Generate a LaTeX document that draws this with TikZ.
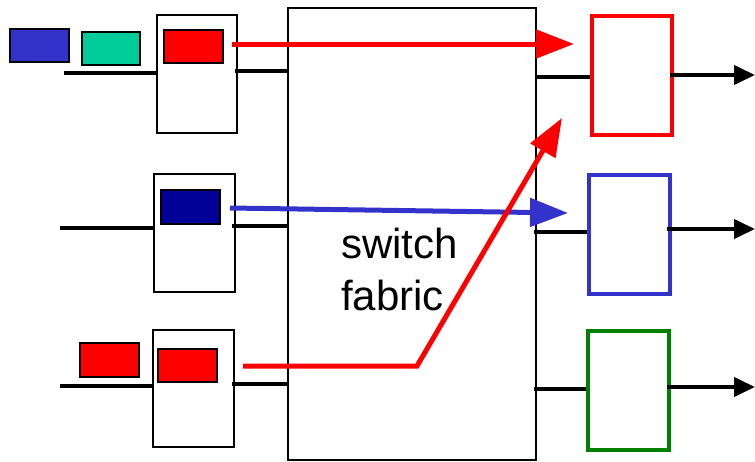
\documentclass[tikz,border=0pt]{standalone}
\usepackage{fontspec}
\setmainfont{Liberation Sans}
\usetikzlibrary{arrows.meta}
\definecolor{pblue}{HTML}{3333CC}
\definecolor{pteal}{HTML}{00CC99}
\definecolor{pred}{HTML}{FF0000}
\definecolor{pnavy}{HTML}{000099}
\definecolor{pgreen}{HTML}{008000}
\tikzset{
  port/.style={draw=black, line width=2pt, fill=white, inner sep=0pt},
  pkt/.style={draw=black, line width=2pt, inner sep=0pt, minimum width=59pt, minimum height=33pt},
  outport/.style={line width=3.5pt, fill=white, inner sep=0pt, minimum width=80pt, minimum height=119pt},
  wire/.style={line width=4pt, black},
  outwire/.style={line width=4pt, black, -{Triangle[length=21pt,width=19pt]}},
  flow/.style={line width=5pt, line join=miter, -{Triangle[length=38pt,width=28pt]}},
}
\begin{document}
\begin{tikzpicture}[x=1pt,y=-1pt]
\useasboundingbox (0,0) rectangle (755,461);
% switch fabric
\node[port, minimum width=248pt, minimum height=452pt] (fab) at (412,234) {};
\node[anchor=west, inner sep=0pt, align=left, font=\fontsize{42}{52}\selectfont] (lbl) at (341,269) {switch\\fabric};
% input ports
\node[port, minimum width=80pt, minimum height=118pt] (in1) at (197,74) {};
\node[port, minimum width=81pt, minimum height=118pt] (in2) at (194.5,233) {};
\node[port, minimum width=81pt, minimum height=117pt] (in3) at (193.5,388.5) {};
% packets
\node[pkt, fill=pblue] (p1) at (39.5,45.5) {};
\node[pkt, fill=pteal, minimum width=58pt] (p2) at (111,48.5) {};
\node[pkt, fill=pred] (p3) at (193.5,46.5) {};
\node[pkt, fill=pnavy, minimum height=34pt] (p4) at (190.5,207) {};
\node[pkt, fill=pred, minimum height=34pt] (p5) at (109.5,360) {};
\node[pkt, fill=pred] (p6) at (187.5,365.5) {};
% output ports
\node[outport, draw=pred] (out1) at (632,75.5) {};
\node[outport, draw=pblue, minimum width=81pt] (out2) at (629.5,234.5) {};
\node[outport, draw=pgreen, minimum width=81pt] (out3) at (628.5,390.5) {};
% input wires
\coordinate (a1) at (64,73);
\coordinate (a2) at (60,228);
\coordinate (a3) at (60,386);
\draw[wire] (a1) -- (a1 -| in1.west);
\draw[wire] (a2) -- (a2 -| in2.west);
\draw[wire] (a3) -- (a3 -| in3.west);
\coordinate (b1) at (235,71);
\coordinate (b2) at (232,226);
\coordinate (b3) at (232,384);
\draw[wire] (b1) -- (b1 -| fab.west);
\draw[wire] (b2) -- (b2 -| fab.west);
\draw[wire] (b3) -- (b3 -| fab.west);
% output wires
\coordinate (c1) at (535,77);
\coordinate (c2) at (534,232);
\coordinate (c3) at (534,389);
\draw[wire] (c1) -- (c1 -| out1.west);
\draw[wire] (c2) -- (c2 -| out2.west);
\draw[wire] (c3) -- (c3 -| out3.west);
\coordinate (d1) at (755,75);
\coordinate (d2) at (755,229);
\coordinate (d3) at (755,387);
\draw[outwire] ([xshift=-4pt]d1 -| out1.east) -- (d1);
\draw[outwire] ([xshift=-5pt]d2 -| out2.east) -- (d2);
\draw[outwire] ([xshift=-4pt]d3 -| out3.east) -- (d3);
% flows
\coordinate (f1s) at (232,44);
\coordinate (f1e) at (574,44);
\draw[flow, pred] (f1s) -- (f1e);
\coordinate (f2s) at (230,208);
\coordinate (f2e) at (568,213);
\draw[flow, pblue] (f2s) -- (f2e);
\coordinate (f3s) at (243,366);
\coordinate (f3k) at (417,366);
\coordinate (f3e) at (562,118);
\draw[flow, pred] (f3s) -- (f3k) -- (f3e);
\end{tikzpicture}
\end{document}
